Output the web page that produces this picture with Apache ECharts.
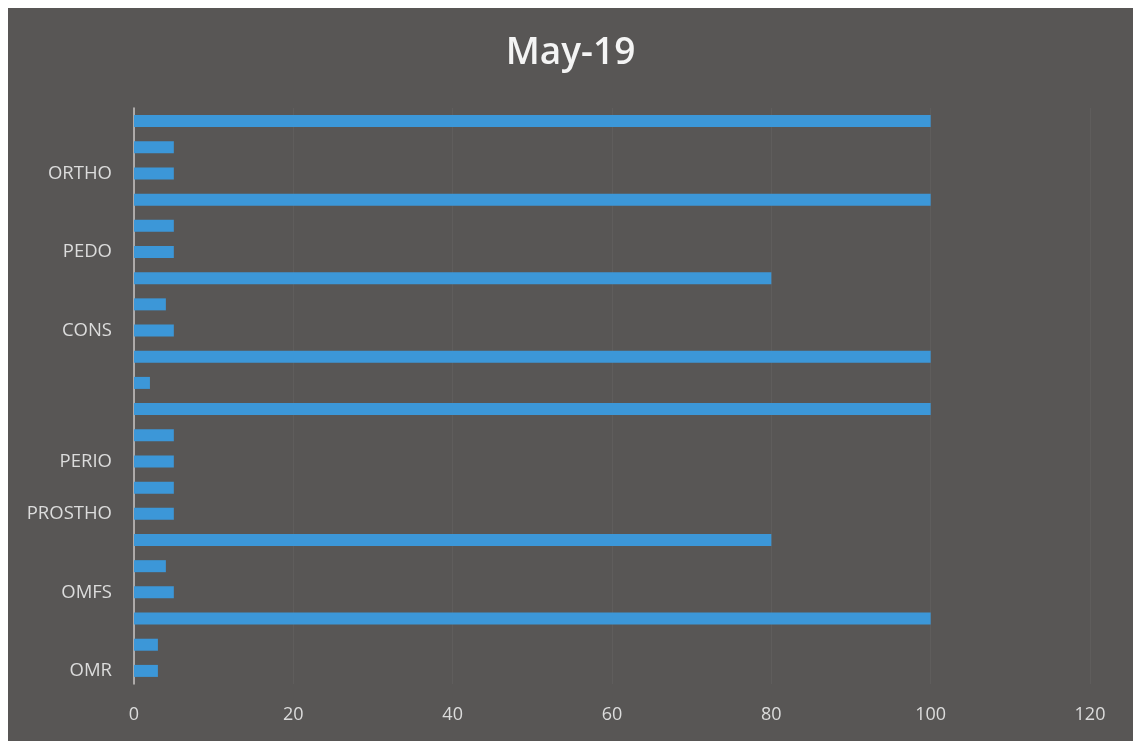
<!DOCTYPE html>
<html>
<head>
<meta charset="utf-8">
<script src="https://cdn.jsdelivr.net/npm/echarts@6/dist/echarts.min.js"></script>
<style>
html,body{margin:0;padding:0;background:#ffffff;width:1133px;height:745px;overflow:hidden;}
#chart{position:absolute;left:8px;top:8px;width:1125px;height:733px;}
</style>
</head>
<body>
<div id="chart"></div>
<script>
// Categories listed top to bottom (blank entries are unlabeled bars)
var categories = ['', '', 'ORTHO', '', '', 'PEDO', '', '', 'CONS', '', '', '', '', 'PERIO', '', 'PROSTHO', '', '', 'OMFS', '', '', 'OMR'];
var values = [100, 5, 5, 100, 5, 5, 80, 4, 5, 100, 2, 100, 5, 5, 5, 5, 80, 4, 5, 100, 3, 3];
var xTicks = [0, 20, 40, 60, 80, 100, 120];
var titleText = 'May-19';

var chart = echarts.init(document.getElementById('chart'));
chart.setOption({
  backgroundColor: '#585655',
  animation: false,
  title: {
    text: titleText,
    left: 'center',
    top: 22,
    textStyle: {color: '#f4f4f4', fontSize: 37, fontWeight: 600, fontFamily: 'Open Sans'}
  },
  grid: {left: 126, right: 43, top: 100, bottom: 57, containLabel: false},
  xAxis: {
    type: 'value',
    min: xTicks[0],
    max: xTicks[xTicks.length - 1],
    interval: xTicks[1] - xTicks[0],
    axisLine: {show: false},
    axisTick: {show: false},
    splitLine: {show: true, lineStyle: {color: 'rgba(255,255,255,0.045)', width: 1}},
    axisLabel: {color: '#dcdcdc', fontSize: 18, fontFamily: 'Open Sans', margin: 22}
  },
  yAxis: {
    type: 'category',
    inverse: true,
    data: categories,
    axisLine: {show: true, lineStyle: {color: '#c8c6c4', width: 1.5}},
    axisTick: {show: false},
    axisLabel: {interval: 0, color: '#dcdcdc', fontSize: 18.5, fontFamily: 'Open Sans', margin: 22}
  },
  series: [{
    type: 'bar',
    data: values,
    barWidth: 12,
    itemStyle: {color: '#3c97d8'}
  }]
});
</script>
</body>
</html>
